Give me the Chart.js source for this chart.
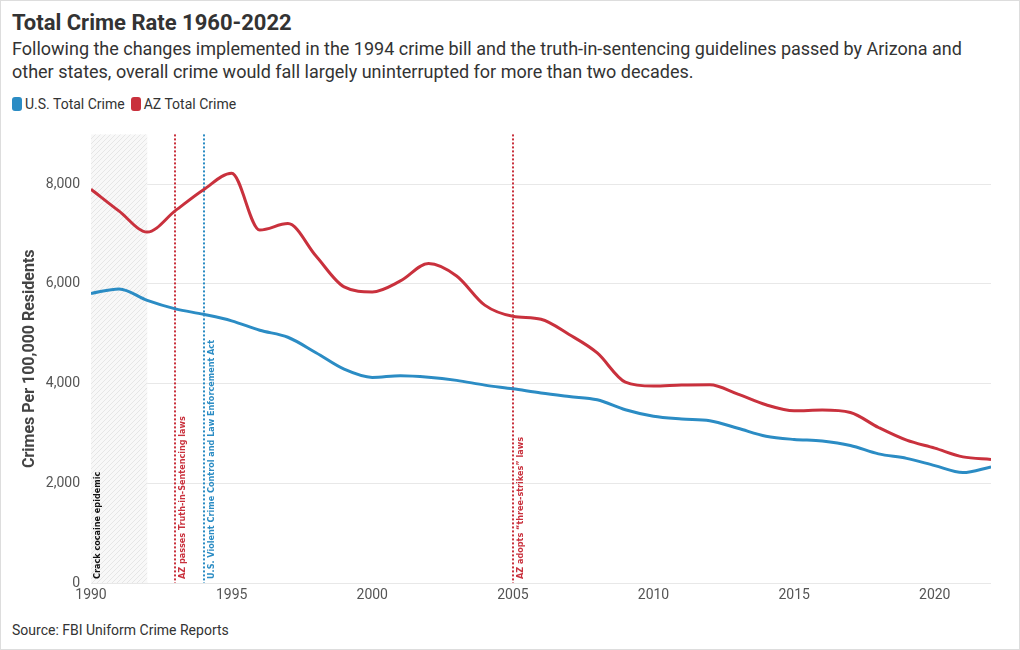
<!DOCTYPE html>
<html>
<head>
<meta charset="utf-8">
<script src="https://cdn.jsdelivr.net/npm/chart.js@4"></script>
<style>
  html, body { margin:0; padding:0; background:#fff; }
  #wrap { position:relative; width:1020px; height:650px; overflow:hidden; font-family: Roboto, "Noto Sans", sans-serif; color:#333; }
  #frame { position:absolute; left:0; top:0; width:1018px; height:648px; border:1px solid #ddd; pointer-events:none; }
  #title { position:absolute; left:12px; top:10px; font-size:22px; font-weight:bold; color:#333; white-space:nowrap; }
  #subtitle { position:absolute; left:12px; top:37px; font-size:18px; line-height:23px; color:#333; width:990px; }
  #legend { position:absolute; left:12px; top:96px; font-size:14px; color:#333; display:flex; align-items:center; }
  .li { display:flex; align-items:center; margin-right:6px; }
  .sw { width:10px; height:14px; border-radius:3px; margin-right:3px; display:inline-block; }
  #source { position:absolute; left:12px; top:622px; font-size:14px; color:#333; }
  #c { position:absolute; left:0; top:115px; }
</style>
</head>
<body>
<div id="wrap">
  <div id="title">Total Crime Rate 1960-2022</div>
  <div id="subtitle">Following the changes implemented in the 1994 crime bill and the truth-in-sentencing guidelines passed by Arizona and other states, overall crime would fall largely uninterrupted for more than two decades.</div>
  <div id="legend"></div>
  <canvas id="c" width="1020" height="496"></canvas>
  <div id="source">Source: FBI Uniform Crime Reports</div>
  <div id="frame"></div>
</div>
<script>
const years = [1990,1991,1992,1993,1994,1995,1996,1997,1998,1999,2000,2001,2002,2003,2004,2005,2006,2007,2008,2009,2010,2011,2012,2013,2014,2015,2016,2017,2018,2019,2020,2021,2022];
const usTotal = [5810,5900,5670,5500,5390,5260,5070,4930,4620,4290,4125,4160,4130,4065,3970,3895,3810,3740,3675,3475,3345,3290,3255,3105,2945,2880,2850,2760,2590,2500,2355,2215,2330];
const azTotal = [7900,7460,7040,7470,7890,8220,7080,7210,6560,5940,5840,6060,6410,6160,5575,5350,5290,4985,4615,4030,3950,3970,3975,3790,3575,3455,3470,3420,3120,2865,2705,2530,2480];
const seriesNames = ["U.S. Total Crime", "AZ Total Crime"];
const seriesColors = ["#2b8cc4", "#c9313d"];
const yTicks = [0,2000,4000,6000,8000];
const xTicks = [1990,1995,2000,2005,2010,2015,2020];
const shadedPeriod = { from:1990, to:1992, label:"Crack cocaine epidemic" };
const events = [
  { year:1993, label:"AZ passes Truth-in-Sentencing laws", color:"#c9313d" },
  { year:1994, label:"U.S. Violent Crime Control and Law Enforcement Act", color:"#2b8cc4" },
  { year:2005, label:"AZ adopts \u201cthree-strikes\u201d laws", color:"#c9313d" }
];

const lg = document.getElementById('legend');
seriesNames.forEach((n,i)=>{
  const d = document.createElement('span'); d.className='li';
  d.innerHTML = '<span class="sw" style="background:'+seriesColors[i]+'"></span>'+n;
  lg.appendChild(d);
});

const LABEL_FONT = 'bold 9px "Liberation Sans Narrow", "DejaVu Sans Condensed", Roboto, sans-serif';

const annotPlugin = {
  id:'annot',
  beforeDatasetsDraw(chart){
    const {ctx, chartArea:a, scales:{x}} = chart;
    const pc = document.createElement('canvas'); pc.width=5; pc.height=5;
    const p = pc.getContext('2d');
    p.fillStyle='#f8f8f8'; p.fillRect(0,0,5,5);
    p.strokeStyle='#e6e6e6'; p.lineWidth=1;
    p.beginPath(); p.moveTo(0,5); p.lineTo(5,0); p.moveTo(-1,1); p.lineTo(1,-1); p.moveTo(4,6); p.lineTo(6,4); p.stroke();
    const x0 = x.getPixelForValue(shadedPeriod.from), x1 = x.getPixelForValue(shadedPeriod.to);
    ctx.save();
    ctx.fillStyle = ctx.createPattern(pc,'repeat');
    ctx.fillRect(x0, a.top, x1-x0, a.bottom-a.top);
    ctx.restore();
    events.forEach(e=>{
      const px = Math.round(x.getPixelForValue(e.year));
      ctx.save();
      ctx.strokeStyle = e.color; ctx.lineWidth = 2; ctx.setLineDash([2,2]);
      ctx.beginPath(); ctx.moveTo(px, a.top); ctx.lineTo(px, a.bottom); ctx.stroke();
      ctx.restore();
    });
  },
  afterDatasetsDraw(chart){
    const {ctx, chartArea:a, scales:{x}} = chart;
    const drawLabel = (px, text, color) => {
      ctx.save();
      ctx.translate(px, a.bottom - 4);
      ctx.rotate(-Math.PI/2);
      ctx.font = LABEL_FONT; ctx.fillStyle = color;
      ctx.textAlign='left'; ctx.textBaseline='middle';
      ctx.fillText(text, 0, 0);
      ctx.restore();
    };
    drawLabel(x.getPixelForValue(shadedPeriod.from)+7, shadedPeriod.label, '#111');
    events.forEach(e=> drawLabel(Math.round(x.getPixelForValue(e.year))+8, e.label, e.color));
  }
};

new Chart(document.getElementById('c'), {
  type:'line',
  data:{
    datasets:[
      { label:seriesNames[0], data: years.map((y,i)=>({x:y,y:usTotal[i]})), borderColor:seriesColors[0], backgroundColor:seriesColors[0], borderWidth:3, pointRadius:0, cubicInterpolationMode:'monotone' },
      { label:seriesNames[1], data: years.map((y,i)=>({x:y,y:azTotal[i]})), borderColor:seriesColors[1], backgroundColor:seriesColors[1], borderWidth:3, pointRadius:0, cubicInterpolationMode:'monotone' }
    ]
  },
  options:{
    responsive:false, animation:false,
    layout:{ padding:{ top:7, right:29, left:0, bottom:0 } },
    plugins:{ legend:{display:false}, tooltip:{enabled:false} },
    scales:{
      x:{
        type:'linear', min:1990, max:2022,
        afterBuildTicks(s){ s.ticks = xTicks.map(v=>({value:v})); },
        afterFit(s){ s.height = 28; },
        grid:{ display:false, drawTicks:false },
        border:{ display:false },
        ticks:{ padding:4, color:'#555', font:{ family:'Roboto', size:14 }, callback:v=>String(v), maxRotation:0, autoSkip:false }
      },
      y:{
        min:0, max:9000,
        afterBuildTicks(s){ s.ticks = yTicks.map(v=>({value:v})); },
        afterFit(s){ s.width = 91; },
        grid:{ color:'#e8e8e8', drawTicks:false },
        border:{ display:false },
        ticks:{ padding:11, color:'#555', font:{ family:'Roboto', size:14 }, callback:v=>v.toLocaleString('en-US') },
        title:{ display:true, text:'Crimes Per 100,000 Residents', color:'#444', font:{ family:'Roboto', size:16, weight:'bold' }, padding:{ top:20, bottom:0 } }
      }
    }
  },
  plugins:[annotPlugin]
});
</script>
</body>
</html>
